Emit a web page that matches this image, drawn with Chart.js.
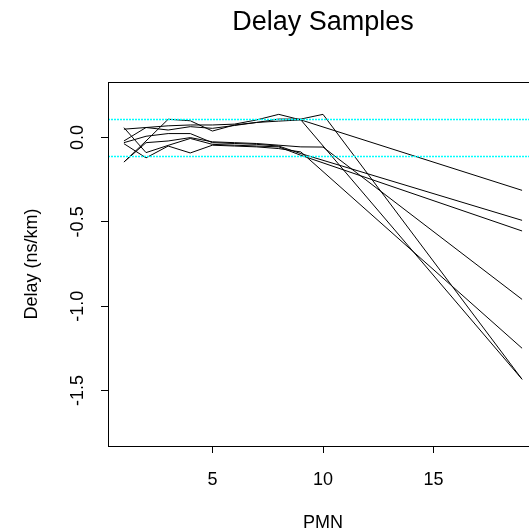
<!DOCTYPE html>
<html>
<head>
<meta charset="utf-8">
<title>Delay Samples</title>
<script src="https://cdn.jsdelivr.net/npm/chart.js@4.4.1/dist/chart.umd.min.js"></script>
<style>
    html, body { margin: 0; padding: 0; background: #fff; overflow: hidden; }
    #wrap { width: 529px; height: 532px; overflow: hidden; }
    canvas { display: block; }
</style>
</head>
<body>
<div id="wrap"><canvas id="chart" width="545" height="532" style="width:545px;height:532px"></canvas></div>
<script>
// PMN positions that carry a vertex (the lines run straight from 9/10 out to 19)
const pmn = [1, 2, 3, 4, 5, 6, 7, 8, 9, 10, 19];

// delay samples (ns/km), null = no vertex at that PMN
const sampleA = [0.05, 0.06, 0.07, 0.075, 0.075, 0.08, 0.105, 0.138, 0.105, null, -0.313];
const sampleB = [-0.03, 0.008, 0.024, 0.024, -0.03, -0.035, -0.04, -0.05, -0.095, null, -0.491];
const sampleC = [0.059, -0.089, -0.046, -0.005, -0.04, -0.045, -0.05, -0.055, -0.105, null, -0.554];
const sampleD = [-0.145, -0.03, -0.02, 0.0, -0.025, -0.03, -0.035, -0.045, -0.055, -0.056, -0.96];
const sampleE = [-0.036, -0.12, -0.05, -0.091, -0.045, -0.05, -0.055, -0.065, -0.085, null, -1.25];
const sampleP = [-0.02, 0.06, 0.045, 0.065, 0.055, 0.072, 0.09, 0.11, 0.11, 0.138, -1.434];
const sampleS = [-0.145, -0.02, 0.109, 0.10, 0.039, 0.075, 0.09, 0.098, 0.105, null, -1.434];
const samples = [sampleA, sampleB, sampleC, sampleD, sampleE, sampleP, sampleS];

const limitLevels = [0.11, -0.11];
const xTicks = [5, 10, 15];
const yTicks = [-1.5, -1.0, -0.5, 0.0];
const xRange = [0.28, 19.72];
const yRange = [-1.83, 0.33];

document.addEventListener('DOMContentLoaded', function() {
    Chart.defaults.font.family = '"Liberation Sans", Arial, Helvetica, sans-serif';
    Chart.defaults.color = '#000';

    const datasets = samples.map(function(values) {
        return {
            data: pmn.map((x, i) => ({ x: x, y: values[i] })),
            borderColor: '#000',
            borderWidth: 1,
            pointRadius: 0,
            fill: false,
            tension: 0,
            spanGaps: true
        };
    });

    // box, dotted limit lines and the rotated y tick labels, R style
    const rStyle = {
        id: 'rStyle',
        afterDatasetsDraw(chart) {
            const { ctx, chartArea, scales } = chart;
            ctx.save();
            ctx.beginPath();
            ctx.rect(chartArea.left, chartArea.top, chartArea.right - chartArea.left, chartArea.bottom - chartArea.top);
            ctx.clip();
            ctx.strokeStyle = '#00ffff';
            ctx.lineWidth = 1.5;
            ctx.setLineDash([2, 1]);
            limitLevels.forEach(function(v) {
                const y = Math.round(scales.y.getPixelForValue(v)) + 0.5;
                ctx.beginPath();
                ctx.moveTo(chartArea.left, y);
                ctx.lineTo(chartArea.right, y);
                ctx.stroke();
            });
            ctx.restore();
        },
        afterDraw(chart) {
            const { ctx, chartArea, scales } = chart;
            ctx.save();
            ctx.strokeStyle = '#000';
            ctx.lineWidth = 1;
            ctx.strokeRect(Math.round(chartArea.left) + 0.5, Math.round(chartArea.top) + 0.5,
                Math.round(chartArea.right - chartArea.left), Math.round(chartArea.bottom - chartArea.top));

            ctx.fillStyle = '#000';
            ctx.font = '18px "Liberation Sans", Arial, sans-serif';
            ctx.textAlign = 'center';
            ctx.textBaseline = 'alphabetic';
            yTicks.forEach(function(v) {
                const y = scales.y.getPixelForValue(v);
                ctx.save();
                ctx.translate(chartArea.left - 25, y);
                ctx.rotate(-Math.PI / 2);
                ctx.fillText(v.toFixed(1), 0, 0);
                ctx.restore();
            });
            ctx.restore();
        }
    };

    new Chart(document.getElementById('chart'), {
        type: 'line',
        data: { datasets: datasets },
        options: {
            responsive: false,
            animation: false,
            layout: { padding: { left: 0, right: 7, top: 0, bottom: 0 } },
            plugins: {
                legend: { display: false },
                tooltip: { enabled: false },
                title: {
                    display: true,
                    text: 'Delay Samples',
                    fullSize: false,
                    color: '#000',
                    font: { size: 27, weight: 'normal' },
                    padding: { top: 6, bottom: 43.6 }
                }
            },
            scales: {
                x: {
                    type: 'linear',
                    position: 'bottom',
                    min: xRange[0],
                    max: xRange[1],
                    bounds: 'data',
                    afterBuildTicks: axis => { axis.ticks = xTicks.map(v => ({ value: v })); },
                    afterFit: axis => { axis.height = 86; },
                    grid: { display: true, drawOnChartArea: false, drawTicks: true, tickLength: 7, color: '#000', lineWidth: 1 },
                    border: { display: true, color: '#000', width: 1 },
                    ticks: { font: { size: 18 }, padding: 16, autoSkip: false, maxRotation: 0 },
                    title: { display: true, text: 'PMN', font: { size: 18, lineHeight: 1 }, padding: 0 }
                },
                y: {
                    type: 'linear',
                    position: 'left',
                    min: yRange[0],
                    max: yRange[1],
                    bounds: 'data',
                    afterBuildTicks: axis => { axis.ticks = yTicks.map(v => ({ value: v })); },
                    afterFit: axis => { axis.width = 108; },
                    grid: { display: true, drawOnChartArea: false, drawTicks: true, tickLength: 7, color: '#000', lineWidth: 1 },
                    border: { display: true, color: '#000', width: 1 },
                    ticks: { display: false },
                    title: { display: true, text: 'Delay (ns/km)', font: { size: 18 }, padding: { top: 21, bottom: 0 } }
                }
            }
        },
        plugins: [rStyle]
    });
});
</script>
</body>
</html>
